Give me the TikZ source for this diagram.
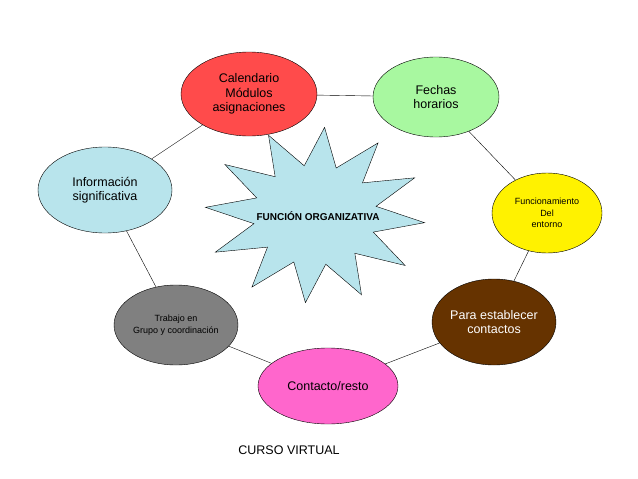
\documentclass[tikz,border=0pt]{standalone}
\usepackage{fontspec}
\setmainfont{Liberation Sans}
\usetikzlibrary{shapes.geometric}
\definecolor{redcal}{HTML}{FF4B4B}
\definecolor{greenfe}{HTML}{A8F8A0}
\definecolor{bluein}{HTML}{B8E4EC}
\definecolor{brownpa}{HTML}{663300}
\definecolor{pinkco}{HTML}{FF66CC}
\tikzset{
  bubble/.style={ellipse,draw,thin,align=center,inner sep=0pt,font=\fontsize{12.5}{14.5}\selectfont},
  small/.style={font=\fontsize{9}{11.5}\selectfont},
  link/.style={draw,thin}
}
\begin{document}
\begin{tikzpicture}[x=1pt,y=-1pt]
\useasboundingbox (0,0) rectangle (638,479);
% star
\fill[bluein,draw=black,thin] plot[samples at={0,...,23},smooth cycle,tension=0] ({315+(mod(\x,2)==0?110:62)*cos(\x*15+5)},{215+(mod(\x,2)==0?88:50)*sin(\x*15+5)});
\node[font=\bfseries\fontsize{10}{12}\selectfont] (star) at (318,216) {FUNCIÓN ORGANIZATIVA};
% bubbles
\node[bubble,fill=redcal,minimum width=136,minimum height=84] (cal) at (249,94) {Calendario\\Módulos\\asignaciones};
\node[bubble,fill=greenfe,minimum width=126,minimum height=80] (fec) at (436,97) {Fechas\\horarios};
\node[bubble,fill=bluein,minimum width=134,minimum height=86] (inf) at (105,190) {Información\\significativa};
\node[bubble,fill=yellow,small,minimum width=110,minimum height=80] (fun) at (547,213) {Funcionamiento\\Del\\entorno};
\node[bubble,fill=gray,small,minimum width=124,minimum height=80] (tra) at (176,325) {Trabajo en\\Grupo y coordinación};
\node[bubble,fill=brownpa,text=white,minimum width=124,minimum height=86] (par) at (494,322) {Para establecer\\contactos};
\node[bubble,fill=pinkco,minimum width=140,minimum height=76] (con) at (328,386) {Contacto/resto};
\node[font=\fontsize{12.5}{14.5}\selectfont] (cur) at (289,450) {CURSO VIRTUAL};
% links
\draw[link] (cal) -- (fec);
\draw[link] (cal) -- (inf);
\draw[link] (fec) -- (fun);
\draw[link] (inf) -- (tra);
\draw[link] (fun) -- (par);
\draw[link] (tra) -- (con);
\draw[link] (con) -- (par);
\end{tikzpicture}
\end{document}
